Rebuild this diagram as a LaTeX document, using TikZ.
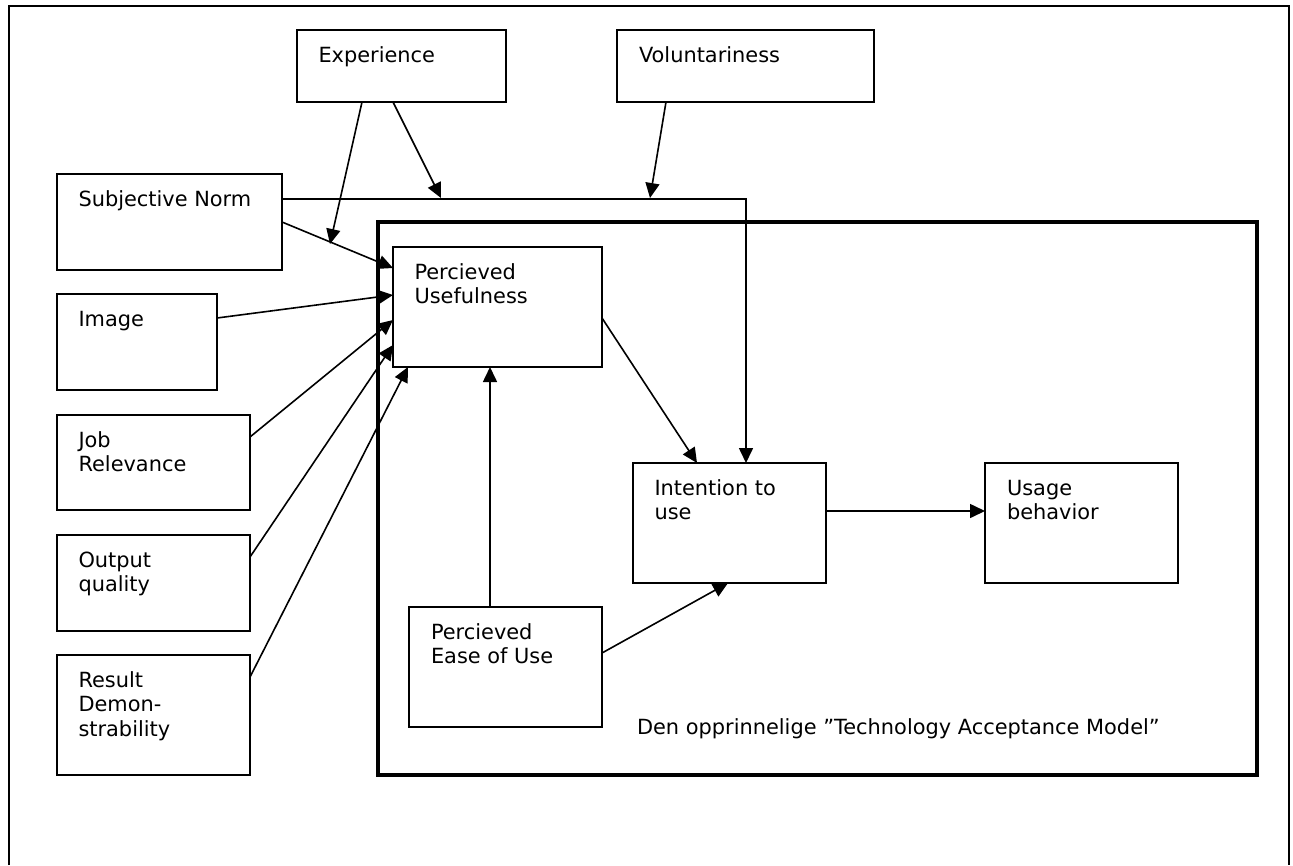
\documentclass[tikz,border=0pt]{standalone}
\usepackage{fontspec}
\setmainfont{DejaVu Sans}
\usetikzlibrary{arrows.meta}
\tikzset{
  box/.style={draw=black, line width=1.6pt, inner sep=0pt, outer sep=0pt, anchor=north west},
  lbl/.style={inner sep=0pt, outer sep=0pt, anchor=base west, font=\fontsize{20.9}{24.5}\selectfont},
  conn/.style={line width=1.6pt, -{Triangle[length=15pt,width=14pt]}},
  plain/.style={line width=1.6pt},
}
\newcommand{\twolines}[2]{\begin{tabular}[t]{@{}l@{}}#1\\#2\end{tabular}}
\newcommand{\threelines}[3]{\begin{tabular}[t]{@{}l@{}}#1\\#2\\#3\end{tabular}}
\begin{document}
\begin{tikzpicture}[x=1pt,y=-1pt]
\useasboundingbox (0,0) rectangle (1293,865);
% outer frame (bottom edge lies outside the picture)
\draw[plain] (9,865) -- (9,6) -- (1289,6) -- (1289,865);
% TAM frame
\node[box, line width=3.2pt, minimum width=879pt, minimum height=553pt] (tam) at (378,222) {};
% boxes
\node[box, minimum width=209pt, minimum height=72pt] (exp) at (297,30) {};
\node[box, minimum width=257pt, minimum height=72pt] (vol) at (617,30) {};
\node[box, minimum width=225pt, minimum height=96pt] (sn) at (57,174) {};
\node[box, minimum width=160pt, minimum height=96pt] (img) at (57,294) {};
\node[box, minimum width=193pt, minimum height=95pt] (job) at (57,415) {};
\node[box, minimum width=193pt, minimum height=96pt] (out) at (57,535) {};
\node[box, minimum width=193pt, minimum height=120pt] (res) at (57,655) {};
\node[box, minimum width=209pt, minimum height=120pt] (pu) at (393,247) {};
\node[box, minimum width=193pt, minimum height=120pt] (int) at (633,463) {};
\node[box, minimum width=193pt, minimum height=120pt] (use) at (985,463) {};
\node[box, minimum width=193pt, minimum height=120pt] (peou) at (409,607) {};
% labels
\node[lbl] (expT) at ([xshift=21.5pt,yshift=-32pt]exp.north west) {Experience};
\node[lbl] (volT) at ([xshift=22pt,yshift=-32pt]vol.north west) {Voluntariness};
\node[lbl] (snT) at ([xshift=21.5pt,yshift=-32pt]sn.north west) {Subjective Norm};
\node[lbl] (imgT) at ([xshift=21.5pt,yshift=-32pt]img.north west) {Image};
\node[lbl] (jobT) at ([xshift=21.5pt,yshift=-32pt]job.north west) {\twolines{Job}{Relevance}};
\node[lbl] (outT) at ([xshift=21.5pt,yshift=-32pt]out.north west) {\twolines{Output}{quality}};
\node[lbl] (resT) at ([xshift=21.5pt,yshift=-32pt]res.north west) {\threelines{Result}{Demon-}{strability}};
\node[lbl] (puT) at ([xshift=21.5pt,yshift=-32pt]pu.north west) {\twolines{Percieved}{Usefulness}};
\node[lbl] (intT) at ([xshift=21.5pt,yshift=-32pt]int.north west) {\twolines{Intention to}{use}};
\node[lbl] (useT) at ([xshift=22pt,yshift=-32pt]use.north west) {\twolines{Usage}{behavior}};
\node[lbl] (peouT) at ([xshift=22pt,yshift=-32pt]peou.north west) {\twolines{Percieved}{Ease of Use}};
\node[lbl] (cap) at (637,734) {Den opprinnelige ”Technology Acceptance Model”};
% free ends of moderator arrows
\coordinate (e1) at (330,244);
\coordinate (e2) at (441,198);
\coordinate (v1) at (650,198);
% connectors
\draw[conn] ([yshift=-25pt]sn.north east) -| ([xshift=16.5pt]int.north);
\draw[conn] ([xshift=-39.5pt]exp.south) -- (e1);
\draw[conn] ([xshift=-8.5pt]exp.south) -- (e2);
\draw[conn] ([xshift=-79.5pt]vol.south) -- (v1);
\draw[conn] (sn.east) -- ([yshift=-21pt]pu.north west);
\draw[conn] ([yshift=-24pt]img.north east) -- ([yshift=-48pt]pu.north west);
\draw[conn] ([yshift=-22pt]job.north east) -- ([yshift=-73pt]pu.north west);
\draw[conn] ([yshift=-22pt]out.north east) -- ([yshift=-98pt]pu.north west);
\draw[conn] ([yshift=-22pt]res.north east) -- ([xshift=15pt]pu.south west);
\draw[conn] ([xshift=-15.5pt]peou.north) -- ([xshift=-15.5pt]peou.north |- pu.south);
\draw[conn] ([yshift=-71pt]pu.north east) -- ([xshift=64pt]int.north west);
\draw[conn] ([yshift=-46pt]peou.north east) -- ([xshift=95pt]int.south west);
\draw[conn] ([yshift=-48pt]int.north east) -- ([yshift=-48pt]use.north west);
\end{tikzpicture}
\end{document}
